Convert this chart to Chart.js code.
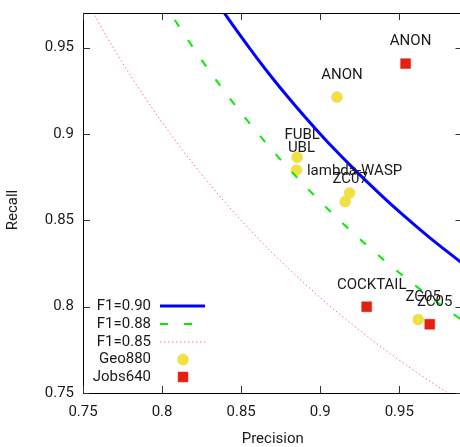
<!DOCTYPE html>
<html>
<head>
<meta charset="utf-8">
<script src="https://cdn.jsdelivr.net/npm/chart.js@4/dist/chart.umd.min.js"></script>
<style>
html,body{margin:0;padding:0;overflow:hidden;background:#fff;}
#wrap{width:470px;height:447px;}
</style>
</head>
<body>
<div id="wrap"><canvas id="c" width="470" height="447"></canvas></div>
<script>
// ---- data ----
const xTicks = [0.75, 0.8, 0.85, 0.9, 0.95];
const yTicks = [0.75, 0.8, 0.85, 0.9, 0.95];
const xTickLabels = ['0.75', '0.8', '0.85', '0.9', '0.95'];
const yTickLabels = ['0.75', '0.8', '0.85', '0.9', '0.95'];

const precF90 = [0.83, 0.84, 0.85, 0.86, 0.87, 0.88, 0.89, 0.90, 0.91, 0.92, 0.93, 0.94, 0.95, 0.96, 0.97, 0.98, 0.99];
const recF90  = [0.9829, 0.9692, 0.9563, 0.9439, 0.9321, 0.9209, 0.9102, 0.9000, 0.8902, 0.8809, 0.8719, 0.8633, 0.8550, 0.8471, 0.8394, 0.8321, 0.8250];

const precF88 = [0.80, 0.81, 0.82, 0.83, 0.84, 0.85, 0.86, 0.87, 0.88, 0.89, 0.90, 0.91, 0.92, 0.93, 0.94, 0.95, 0.96, 0.97, 0.98, 0.99];
const recF88  = [0.9778, 0.9632, 0.9495, 0.9364, 0.9240, 0.9122, 0.9010, 0.8902, 0.8800, 0.8702, 0.8609, 0.8519, 0.8433, 0.8351, 0.8272, 0.8196, 0.8123, 0.8053, 0.7985, 0.7920];

const precF85 = [0.75, 0.76, 0.77, 0.78, 0.79, 0.80, 0.81, 0.82, 0.83, 0.84, 0.85, 0.86, 0.87, 0.88, 0.89, 0.90, 0.91, 0.92, 0.93, 0.94, 0.95, 0.96, 0.97, 0.98, 0.99];
const recF85  = [0.9808, 0.9642, 0.9486, 0.9338, 0.9199, 0.9067, 0.8942, 0.8823, 0.8710, 0.8602, 0.8500, 0.8402, 0.8309, 0.8220, 0.8134, 0.8053, 0.7974, 0.7899, 0.7827, 0.7757, 0.7690, 0.7626, 0.7564, 0.7505, 0.7447];

const geoNames = ['ANON', 'FUBL', 'UBL', 'lambda-WASP', 'ZC07', 'ZC05'];
const geoPrec  = [0.9106, 0.8854, 0.8850, 0.9186, 0.9158, 0.9620];
const geoRec   = [0.9213, 0.8865, 0.8790, 0.8658, 0.8608, 0.7925];

const jobsNames = ['ANON', 'COCKTAIL', 'ZC05'];
const jobsPrec  = [0.9540, 0.9294, 0.9693];
const jobsRec   = [0.9407, 0.7999, 0.7898];

const zip = (xs, ys) => xs.map((x, i) => ({x: x, y: ys[i]}));

const FAMILY = 'Roboto, "DejaVu Sans", sans-serif';
const FSIZE = 15;
const FONT = FSIZE + 'px ' + FAMILY;
const TXT = '#1a1a1a';
const DY = 0; // vertical text correction

const framePlugin = {
  id: 'frame',
  afterDatasetsDraw(chart) {
    const ctx = chart.ctx, a = chart.chartArea;
    const xs = chart.scales.x, ys = chart.scales.y;
    ctx.save();
    // point labels
    ctx.font = FONT; ctx.fillStyle = TXT;
    ctx.textAlign = 'center'; ctx.textBaseline = 'middle';
    [[3, geoNames], [4, jobsNames]].forEach(([di, names]) => {
      const meta = chart.getDatasetMeta(di);
      meta.data.forEach((el, i) => {
        ctx.fillText(names[i], el.x + 5, el.y - 22 + DY);
      });
    });
    // border
    ctx.strokeStyle = '#000'; ctx.lineWidth = 1;
    ctx.strokeRect(Math.round(a.left) + 0.5, Math.round(a.top) + 0.5,
                   Math.round(a.right - a.left), Math.round(a.bottom - a.top));
    // inward ticks
    ctx.strokeStyle = '#333';
    const tl = 7;
    ctx.beginPath();
    xTicks.forEach(v => {
      const px = Math.round(xs.getPixelForValue(v)) + 0.5;
      ctx.moveTo(px, a.bottom); ctx.lineTo(px, a.bottom - tl);
      ctx.moveTo(px, a.top); ctx.lineTo(px, a.top + tl);
    });
    yTicks.forEach(v => {
      const py = Math.round(ys.getPixelForValue(v)) + 0.5;
      ctx.moveTo(a.left, py); ctx.lineTo(a.left + tl, py);
      ctx.moveTo(a.right, py); ctx.lineTo(a.right - tl, py);
    });
    ctx.stroke();
    // tick labels
    ctx.fillStyle = TXT; ctx.font = FONT; ctx.textBaseline = 'middle';
    ctx.textAlign = 'center';
    xTicks.forEach((v, i) => ctx.fillText(xTickLabels[i], xs.getPixelForValue(v), a.bottom + 19 + DY));
    ctx.textAlign = 'right';
    yTicks.forEach((v, i) => ctx.fillText(yTickLabels[i], a.left - 9, ys.getPixelForValue(v) + DY));
    // axis titles
    ctx.textAlign = 'center';
    ctx.fillText('Precision', (a.left + a.right) / 2, 439 + DY);
    ctx.save();
    ctx.translate(13 + DY, 210); ctx.rotate(-Math.PI / 2);
    ctx.fillText('Recall', 0, 0);
    ctx.restore();
    // legend
    const rows = [306, 324, 342, 359.5, 377];
    const textRight = 151, lx0 = 160, lx1 = 205, mx = 183;
    chart.data.datasets.forEach((ds, i) => {
      const y = rows[i];
      ctx.fillStyle = TXT; ctx.textAlign = 'right';
      ctx.fillText(ds.label, textRight, y + DY);
      ctx.save();
      if (ds.showLine) {
        ctx.strokeStyle = ds.borderColor; ctx.lineWidth = ds.borderWidth;
        ctx.setLineDash(ds.borderDash || []);
        ctx.beginPath(); ctx.moveTo(lx0, y); ctx.lineTo(lx1, y); ctx.stroke();
      } else {
        ctx.fillStyle = ds.pointBackgroundColor;
        ctx.strokeStyle = ds.pointBorderColor;
        ctx.lineWidth = ds.pointBorderWidth;
        ctx.beginPath();
        if (ds.pointStyle === 'rect') {
          const s = ds.pointRadius * Math.SQRT1_2;
          ctx.rect(mx - s, y - s, 2 * s, 2 * s);
        } else {
          ctx.arc(mx, y, ds.pointRadius, 0, Math.PI * 2);
        }
        ctx.fill(); ctx.stroke();
      }
      ctx.restore();
    });
    ctx.restore();
  }
};

new Chart(document.getElementById('c'), {
  type: 'scatter',
  data: {
    datasets: [
      { label: 'F1=0.90', data: zip(precF90, recF90), showLine: true, pointRadius: 0,
        borderColor: '#0000ff', borderWidth: 3, cubicInterpolationMode: 'monotone', fill: false },
      { label: 'F1=0.88', data: zip(precF88, recF88), showLine: true, pointRadius: 0,
        borderColor: '#00ee00', borderWidth: 2, borderDash: [8, 16], cubicInterpolationMode: 'monotone', fill: false },
      { label: 'F1=0.85', data: zip(precF85, recF85), showLine: true, pointRadius: 0,
        borderColor: '#ff7070', borderWidth: 1, borderDash: [1.5, 2.5], cubicInterpolationMode: 'monotone', fill: false },
      { label: 'Geo880', data: zip(geoPrec, geoRec), showLine: false, pointStyle: 'circle', pointRadius: 5.5,
        pointBackgroundColor: '#f0e040', pointBorderColor: '#e8d840', pointBorderWidth: 0.5 },
      { label: 'Jobs640', data: zip(jobsPrec, jobsRec), showLine: false, pointStyle: 'rect', pointRadius: 7,
        pointBackgroundColor: '#e42010', pointBorderColor: '#e42010', pointBorderWidth: 0.5 }
    ]
  },
  options: {
    responsive: false,
    animation: false,
    devicePixelRatio: 1,
    layout: { padding: { top: 13, right: 5, left: 0, bottom: 0 } },
    plugins: { legend: { display: false }, tooltip: { enabled: false } },
    scales: {
      x: {
        type: 'linear', min: 0.75, max: 0.99,
        afterBuildTicks: s => { s.ticks = xTicks.map(v => ({value: v})); },
        afterFit: s => { s.height = 54; },
        grid: { display: false, drawTicks: false },
        border: { display: false },
        ticks: { display: false }
      },
      y: {
        type: 'linear', min: 0.75, max: 0.97,
        afterBuildTicks: s => { s.ticks = yTicks.map(v => ({value: v})); },
        afterFit: s => { s.width = 83; },
        grid: { display: false, drawTicks: false },
        border: { display: false },
        ticks: { display: false }
      }
    }
  },
  plugins: [framePlugin]
});
</script>
</body>
</html>
